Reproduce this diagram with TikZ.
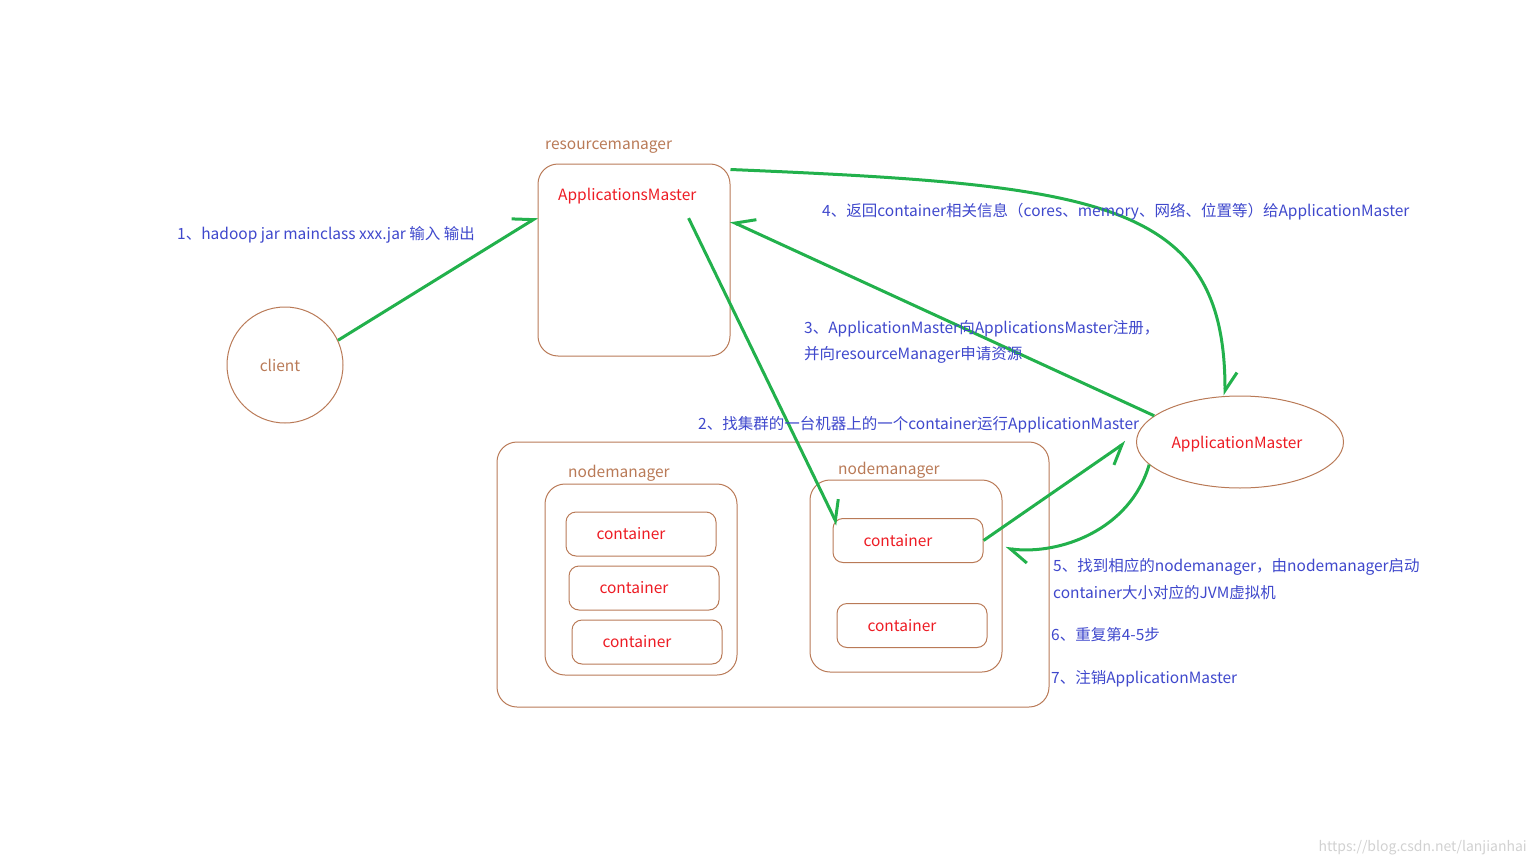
\documentclass[tikz,border=0pt]{standalone}
\usepackage{fontspec}
\setmainfont{Noto Sans CJK SC}
\usetikzlibrary{arrows.meta}
\usetikzlibrary{shapes.geometric}
\definecolor{paintbrown}{HTML}{B97A57}
\definecolor{paintgreen}{HTML}{22B14C}
\definecolor{paintred}{HTML}{ED1C24}
\definecolor{paintblue}{HTML}{3F48CC}

\begin{document}
\begin{tikzpicture}[x=1pt, y=-1pt, font=\fontsize{15.5}{18}\selectfont,
  box/.style={draw=paintbrown, line width=1pt, rounded corners=20pt},
  cbox/.style={draw=paintbrown, line width=1pt, rounded corners=10pt, minimum width=150pt, minimum height=44pt, text=paintred},
  tag/.style={text=paintbrown, anchor=west, inner sep=0pt},
  note/.style={text=paintblue, anchor=west, inner sep=0pt},
  go/.style={draw=paintgreen, line width=3pt, -{Straight Barb[harpoon, length=18pt, width=24pt]}},
  goswap/.style={draw=paintgreen, line width=3pt, -{Straight Barb[harpoon, swap, length=18pt, width=24pt]}}]
\useasboundingbox (0,0) rectangle (1536,864);

\node[circle, draw=paintbrown, line width=1pt, minimum size=116pt, text=paintbrown, text depth=0pt, xshift=0pt] (client) at (285,365) {\hspace*{-10pt}client};

\node[box, minimum width=192pt, minimum height=192pt] (rm) at (634,260) {};
\node[tag] at (545,147) {resourcemanager};
\node[text=paintred, anchor=west, inner sep=0pt] (apps) at (558,196) {ApplicationsMaster};

\node[ellipse, draw=paintbrown, line width=1pt, minimum width=207pt, minimum height=92pt, text=paintred, text depth=0pt] (am) at (1240,442) {\hspace*{-6pt}ApplicationMaster};

\node[box, minimum width=552pt, minimum height=265pt] (cluster) at (773,574.5) {};
\node[box, minimum width=192pt, minimum height=191pt] (nm1) at (641,579.5) {};
\node[box, minimum width=192pt, minimum height=192pt] (nm2) at (906,576) {};
\node[tag] at (568,473) {nodemanager};
\node[tag] at (838,470) {nodemanager};

\node[cbox] (c1) at (641,534) {\hspace*{-20pt}container};
\node[cbox] (c2) at (644,588) {\hspace*{-20pt}container};
\node[cbox] (c3) at (647,642) {\hspace*{-20pt}container};
\node[cbox] (c4) at (908,540.5) {\hspace*{-20pt}container};
\node[cbox] (c5) at (912,625.5) {\hspace*{-20pt}container};

\draw[go] (client.25) -- (rm.156);
\draw[go] ([xshift=-8pt,yshift=-14pt]apps.south east) -- ([xshift=5pt,yshift=-7pt]c4.north west);
\draw[goswap] (am.163) -- (rm.22);
\draw[go] ([yshift=-6pt]rm.north east) .. controls (1100,185) and (1225,200) .. ([xshift=-15pt]am.north);
\draw[goswap] (c4.east) -- ([xshift=-10pt]am.west);
\draw[go] (am.194) .. controls (1130,530) and (1060,555) .. ([xshift=3pt]nm2.16);

\node[note] at (177,235) {1、hadoop jar mainclass xxx.jar 输入 输出};
\node[note] at (698,425) {2、找集群的一台机器上的一个container运行ApplicationMaster};
\node[note] at (804,329) {3、ApplicationMaster向ApplicationsMaster注册，};
\node[note] at (804,355) {并向resourceManager申请资源};
\node[note] at (822,212) {4、返回container相关信息（cores、memory、网络、位置等）给ApplicationMaster};
\node[note] at (1053,567) {5、找到相应的nodemanager，由nodemanager启动};
\node[note] at (1053,593) {container大小对应的JVM虚拟机};
\node[note] at (1051,635) {6、重复第4-5步};
\node[note] at (1051,679) {7、注销ApplicationMaster};

\node[text=black!18, anchor=east, inner sep=0pt, font=\fontsize{14}{16}\selectfont] at (1527,848) {https://blog.csdn.net/lanjianhai};
\end{tikzpicture}
\end{document}
